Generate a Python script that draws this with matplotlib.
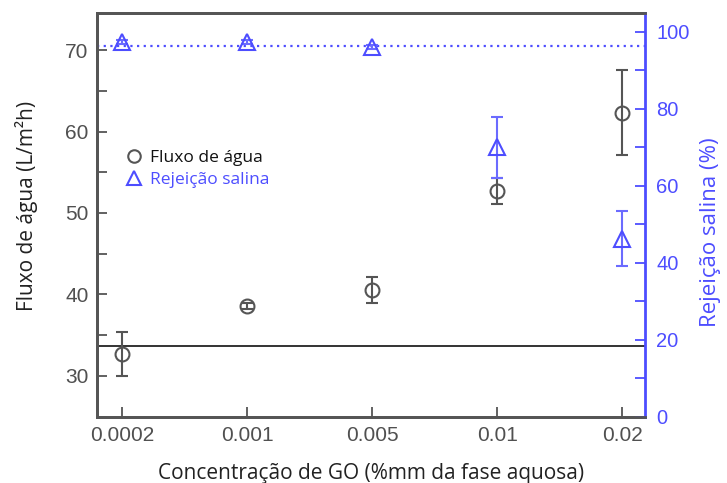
import matplotlib
matplotlib.use("Agg")
import matplotlib.pyplot as plt
from matplotlib.ticker import MultipleLocator

# GO concentration (% m/m of aqueous phase), plotted as evenly spaced categories
concentrations = ["0.0002", "0.001", "0.005", "0.01", "0.02"]

# water flux (L/m2h) and its error
flux = [32.7, 38.6, 40.6, 52.7, 62.3]
flux_err = [2.7, 0.4, 1.6, 1.6, 5.2]

# salt rejection (%) and its error
rejection = [97.4, 97.3, 96.1, 70.0, 46.3]
rejection_err = [0.5, 0.5, 0.6, 8.0, 7.2]

# reference levels of the pristine membrane
flux_ref = 33.7
rejection_ref = 96.3

gray = "#555555"
blue = "#4d4dff"
label_font = "Open Sans"
tick_font = "Liberation Sans"

fig = plt.figure(figsize=(7.27, 4.83), dpi=100)
ax = fig.add_axes([0.1334, 0.1373, 0.7538, 0.835])
ax2 = ax.twinx()

x = list(range(len(concentrations)))

ax.axhline(flux_ref, color="#333333", lw=1.4, zorder=1)
ax.errorbar(x, flux, yerr=flux_err, fmt="o", ms=10, mfc="none", mec=gray,
            mew=1.5, ecolor=gray, elinewidth=1.5, capsize=4, capthick=1.5,
            label="Fluxo de água")

ax2.axhline(rejection_ref, color=blue, lw=1.6, ls=(0, (1, 2)), zorder=1)
ax2.errorbar(x, rejection, yerr=rejection_err, fmt="^", ms=11, mfc="none",
             mec=blue, mew=1.5, ecolor="#6b6bff", elinewidth=1.5, capsize=4,
             capthick=1.5)

ax.set_xlim(-0.2, 4.18)
ax.set_ylim(25, 74.5)
ax2.set_ylim(0, 104.8)

ax.set_xticks(x)
ax.set_xticklabels(concentrations)
ax.yaxis.set_major_locator(MultipleLocator(10))
ax.yaxis.set_minor_locator(MultipleLocator(5))
ax2.yaxis.set_major_locator(MultipleLocator(20))
ax2.yaxis.set_minor_locator(MultipleLocator(10))

ax.tick_params(axis="both", which="both", direction="in", length=7,
               width=1.3, color=gray, labelcolor="#505050", labelsize=15)
ax.tick_params(axis="y", which="both", right=False, pad=6)
ax.tick_params(axis="x", top=False, pad=7)
ax2.tick_params(axis="y", which="both", direction="in", length=7, width=1.3,
                color=blue, labelcolor=blue, labelsize=14.5, pad=8)
for lab in ax.get_xticklabels() + ax.get_yticklabels() + ax2.get_yticklabels():
    lab.set_family(tick_font)

for name in ["left", "bottom", "top"]:
    ax.spines[name].set_color(gray)
    ax.spines[name].set_linewidth(2)
    ax2.spines[name].set_color(gray)
    ax2.spines[name].set_linewidth(2)
ax2.spines["right"].set_color(blue)
ax2.spines["right"].set_linewidth(2)
ax.spines["right"].set_visible(False)

ax.set_xlabel("Concentração de GO (%mm da fase aquosa)", fontsize=15,
              family=label_font, color="#222222", labelpad=13)
ax.set_ylabel("Fluxo de água (L/m²h)", fontsize=15, family=label_font,
              color="#222222")
ax2.set_ylabel("Rejeição salina (%)", fontsize=16, family=label_font,
               color=blue)
ax.yaxis.set_label_coords(-0.108, 0.522)
ax2.yaxis.set_label_coords(1.1, 0.458)

# legend built from both series
h1 = plt.Line2D([], [], ls="none", marker="o", ms=9, mfc="none", mec=gray, mew=1.5)
h2 = plt.Line2D([], [], ls="none", marker="^", ms=10, mfc="none", mec=blue, mew=1.5)
leg = ax.legend([h1, h2], ["Fluxo de água", "Rejeição salina"],
                loc="upper left", bbox_to_anchor=(0.02, 0.70), frameon=False,
                prop={"family": label_font, "size": 12.5}, handletextpad=0.3,
                labelspacing=0.35, handlelength=1.2)
leg.get_texts()[0].set_color("#111111")
leg.get_texts()[1].set_color(blue)

fig.savefig("out.png", dpi=100)
